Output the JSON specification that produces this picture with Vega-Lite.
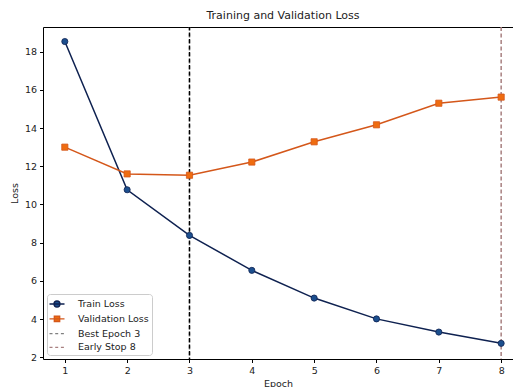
{
  "$schema": "https://vega.github.io/schema/vega-lite/v6.json",
  "width": 470,
  "height": 332,
  "autosize": {"type": "none"},
  "padding": {"left": 43, "top": 27, "right": 0, "bottom": 28},
  "background": "white",
  "title": {"text": "Training and Validation Loss", "font": "DejaVu Sans", "fontSize": 11, "fontWeight": "normal", "color": "#222222", "anchor": "middle", "dx": 5, "offset": 5},
  "config": {
    "view": {"stroke": null},
    "axis": {"grid": false, "labelFont": "DejaVu Sans", "labelFontSize": 9.5, "labelColor": "#222222", "titleFont": "DejaVu Sans", "titleFontSize": 9.5, "titleFontWeight": "normal", "titleColor": "#222222", "domainColor": "#000000", "tickColor": "#000000", "tickSize": 3.5, "labelPadding": 3},
    "legend": {"orient": "bottom-left", "offset": 4, "padding": 3, "strokeColor": "#cccccc", "cornerRadius": 3, "fillColor": "white", "labelFont": "DejaVu Sans", "labelFontSize": 9.5, "labelColor": "#222222", "symbolSize": 144, "rowPadding": 1.8, "labelOffset": 14, "title": null}
  },
  "datasets": {
    "loss": [
      {"epoch": 1, "loss": 18.53, "series": "Train Loss"},
      {"epoch": 2, "loss": 10.77, "series": "Train Loss"},
      {"epoch": 3, "loss": 8.38, "series": "Train Loss"},
      {"epoch": 4, "loss": 6.55, "series": "Train Loss"},
      {"epoch": 5, "loss": 5.1, "series": "Train Loss"},
      {"epoch": 6, "loss": 4.01, "series": "Train Loss"},
      {"epoch": 7, "loss": 3.32, "series": "Train Loss"},
      {"epoch": 8, "loss": 2.73, "series": "Train Loss"},
      {"epoch": 1, "loss": 13.0, "series": "Validation Loss"},
      {"epoch": 2, "loss": 11.6, "series": "Validation Loss"},
      {"epoch": 3, "loss": 11.53, "series": "Validation Loss"},
      {"epoch": 4, "loss": 12.22, "series": "Validation Loss"},
      {"epoch": 5, "loss": 13.28, "series": "Validation Loss"},
      {"epoch": 6, "loss": 14.17, "series": "Validation Loss"},
      {"epoch": 7, "loss": 15.3, "series": "Validation Loss"},
      {"epoch": 8, "loss": 15.62, "series": "Validation Loss"}
    ],
    "marks": [
      {"epoch": 3, "series": "Best Epoch 3"},
      {"epoch": 8, "series": "Early Stop 8"}
    ]
  },
  "resolve": {"axis": {"x": "independent", "y": "independent"}},
  "layer": [
    {
      "data": {"name": "loss"},
      "mark": {"type": "line", "strokeWidth": 1.5},
      "encoding": {
        "x": {"field": "epoch", "type": "quantitative", "scale": {"domain": [0.65, 8.19], "nice": false, "zero": false}, "axis": {"values": [1, 2, 3, 4, 5, 6, 7, 8], "title": "Epoch", "titlePadding": 3, "format": "d"}},
        "y": {"field": "loss", "type": "quantitative", "scale": {"domain": [1.91, 19.29], "nice": false, "zero": false}, "axis": {"values": [2, 4, 6, 8, 10, 12, 14, 16, 18], "title": "Loss", "titlePadding": 5}},
        "stroke": {"field": "series", "type": "nominal", "scale": {"domain": ["Train Loss", "Validation Loss", "Best Epoch 3", "Early Stop 8"], "range": ["#0e2150", "#d4571a", "#808080", "#a88080"]},
          "legend": {"encode": {"symbols": {"update": {
            "shape": {"signal": "datum.value === 'Train Loss' ? 'M-1.25,0H1.25M0.5,0A0.5,0.5 0 1,1 -0.5,0A0.5,0.5 0 1,1 0.5,0Z' : datum.value === 'Validation Loss' ? 'M-1.25,0H1.25M-0.45,-0.45H0.45V0.45H-0.45Z' : 'M-1.25,0H-0.75M-0.3,0H0.2M0.65,0H1.15'"},
            "fill": {"signal": "datum.value === 'Train Loss' ? '#1c4f8e' : datum.value === 'Validation Loss' ? '#ef6c10' : 'transparent'"},
            "stroke": {"signal": "datum.value === 'Train Loss' ? '#0e2150' : datum.value === 'Validation Loss' ? '#e07a45' : datum.value === 'Best Epoch 3' ? '#808080' : '#a88080'"},
            "strokeWidth": {"value": 1.3},
            "strokeDash": {"value": []},
            "opacity": {"value": 1},
            "size": {"value": 144}
          }}}}
        }
      }
    },
    {
      "data": {"name": "marks"},
      "mark": {"type": "rule", "strokeDash": [4, 2.5], "strokeWidth": 1.5},
      "encoding": {
        "x": {"field": "epoch", "type": "quantitative", "scale": {"domain": [0.65, 8.19], "nice": false, "zero": false}, "axis": null},
        "stroke": {"field": "series", "type": "nominal"}
      }
    },
    {
      "data": {"name": "marks"},
      "transform": [{"filter": "datum.epoch == 3"}],
      "mark": {"type": "rule", "strokeDash": [4, 2.5], "strokeDashOffset": 1, "strokeWidth": 1.4, "color": "#000000"},
      "encoding": {
        "x": {"field": "epoch", "type": "quantitative", "scale": {"domain": [0.65, 8.19], "nice": false, "zero": false}, "axis": {"orient": "top", "labels": false, "ticks": false, "title": null, "domain": true}}
      }
    },
    {
      "data": {"name": "loss"},
      "mark": {"type": "point", "filled": true, "size": 38, "strokeWidth": 0.8, "opacity": 1},
      "encoding": {
        "x": {"field": "epoch", "type": "quantitative", "scale": {"domain": [0.65, 8.19], "nice": false, "zero": false}, "axis": null},
        "y": {"field": "loss", "type": "quantitative", "scale": {"domain": [1.91, 19.29], "nice": false, "zero": false}, "axis": null},
        "shape": {"field": "series", "type": "nominal", "scale": {"domain": ["Train Loss", "Validation Loss"], "range": ["circle", "square"]}, "legend": null},
        "fill": {"field": "series", "type": "nominal", "scale": {"domain": ["Train Loss", "Validation Loss", "Best Epoch 3", "Early Stop 8"], "range": ["#1c4f8e", "#ef6c10", "transparent", "transparent"]}, "legend": null},
        "stroke": {"field": "series", "type": "nominal"}
      }
    }
  ]
}
